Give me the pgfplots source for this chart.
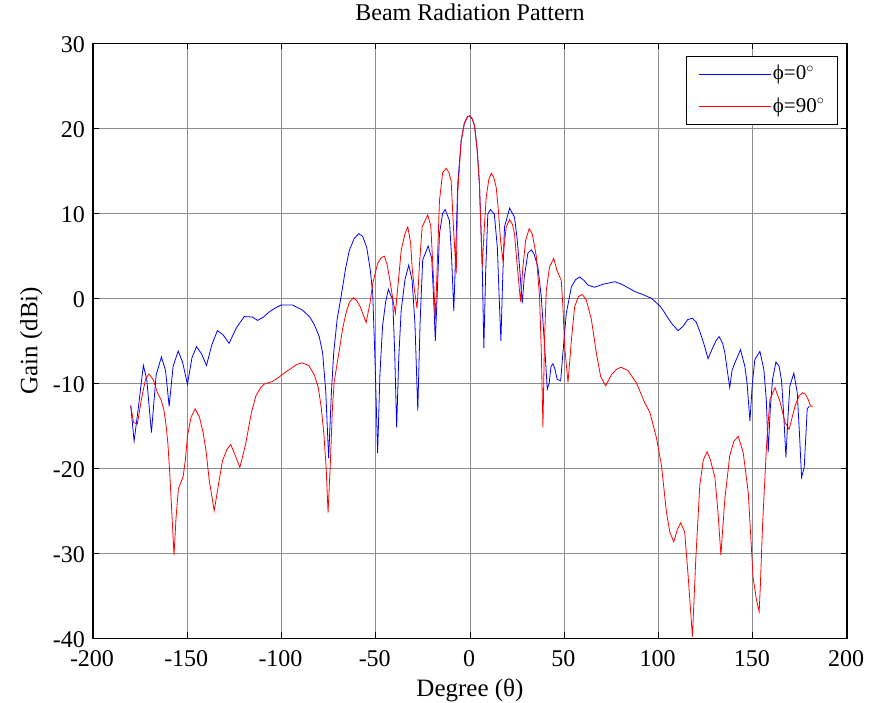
\documentclass[border=0pt]{standalone}
\usepackage{fontspec}
\setmainfont{Liberation Serif}
\usepackage{pgfplots}
\pgfplotsset{compat=1.18}
\begin{document}
\fontsize{24bp}{28bp}\selectfont
\begin{tikzpicture}
\useasboundingbox (-93bp,-64.7bp) rectangle (785bp,638.3bp);
\begin{axis}[
  at={(0,0)}, anchor=south west,
  width=754bp, height=595bp, scale only axis,
  xmin=-200, xmax=200, ymin=-40, ymax=30,
  xtick={-200,-150,...,200}, ytick={-40,-30,...,30},
  /pgf/number format/assume math mode=true,
  tick label style={font=\fontsize{24bp}{28bp}\selectfont, inner sep=0pt},
  xticklabel style={anchor=base, yshift=-28.4bp, xshift=-1bp},
  yticklabel style={anchor=base east, xshift=-8bp, yshift=-9bp},
  tick align=inside, major tick length=6bp,
  tick style={black, line width=0.9bp},
  axis line style={black, line width=1.4bp},
  grid=major,
  major grid style={black!45, line width=0.9bp},
  title={Beam Radiation Pattern},
  title style={at={(axis description cs:0.5,1)}, anchor=base, yshift=16.6bp, font=\fontsize{24bp}{28bp}\selectfont, inner sep=0pt},
  xlabel={Degree (θ)},
  xlabel style={at={(axis description cs:0.5,0)}, anchor=base, yshift=-57.7bp, font=\fontsize{25bp}{29bp}\selectfont, inner sep=0pt},
  ylabel={Gain (dBi)},
  ylabel style={at={(axis description cs:0,0.5)}, anchor=base, yshift=55.7bp, font=\fontsize{25bp}{29bp}\selectfont, inner sep=0pt},
  legend style={at={(rel axis cs:0.988,0.979)}, anchor=north east, draw=black, line width=1bp, fill=white,
    font=\fontsize{21bp}{25bp}\selectfont, inner xsep=12bp, inner ysep=8bp, row sep=12bp,
    nodes={inner sep=1bp}},
  legend cell align=left,
  legend image code/.code={\draw[#1, line width=0.9bp] (0bp,0bp) -- (72bp,0bp);},
]
\addplot[blue, line width=0.8bp] coordinates {
(-180,-12.6) (-178.2,-16.8) (-176,-13) (-173.3,-7.9) (-171.5,-9.5) (-169,-15.8) (-166.5,-9) (-163.7,-6.9)
(-161.5,-8.5) (-159.6,-12.7) (-157.5,-8) (-154.8,-6.2) (-152.5,-7.5) (-149.9,-10.1) (-147.5,-7) (-145.1,-5.7)
(-142.5,-6.5) (-139.8,-7.9) (-137,-5.5) (-134,-3.8) (-131,-4.3) (-127.8,-5.3) (-124,-3.5) (-119.8,-2.15)
(-115.5,-2.2) (-112.7,-2.6) (-109.5,-2.2) (-106.5,-1.6) (-103,-1.1) (-100.3,-0.8) (-94.1,-0.8) (-88.8,-1.4)
(-85,-2.2) (-82.6,-3.1) (-80,-4.5) (-78.2,-6.4) (-76.5,-11) (-75,-18.8) (-73.5,-11) (-72.3,-6.4)
(-70.5,-2.5) (-68.4,0.2) (-66,3.5) (-64,5.65) (-61.5,7.0) (-59.1,7.6) (-57,7.3) (-54.8,6)
(-53,3.5) (-51.6,0.6) (-50.3,-8) (-49,-18.2) (-47.8,-9) (-46.4,-3.3) (-44.8,-0.5) (-43.3,1.05)
(-41,-0.2) (-40,-6) (-38.9,-15.2) (-37.8,-7) (-36.5,-1.4) (-34.5,2.2) (-32.5,3.9) (-30.7,2.1)
(-29.2,-3) (-27.7,-13.2) (-26.5,-3) (-25.1,4.5) (-22.2,6.15) (-20.3,4.7) (-19.3,0) (-18.4,-5)
(-17.3,1) (-16.2,7.6) (-14.5,10) (-13.2,10.45) (-10.9,9.15) (-9.8,5) (-8.6,-1.5) (-7.5,6)
(-6.5,13.45) (-4.7,18.5) (-3,20.6) (-1.2,21.4) (0,21.45) (1.2,21.1) (2.4,20.3) (3.8,17.5)
(5,13.45) (6.5,3.7) (7.35,-5.85) (8.3,3) (9.45,9.9) (10.9,10.45) (12.9,9.9) (14.5,6)
(15.5,0) (16.4,-5) (17.3,2) (18.3,8.4) (21,10.6) (23.6,9.55) (25,7) (26.3,3.7)
(27.7,-0.6) (28.8,2.5) (30.7,5.3) (32.5,5.7) (34,5.2) (36,3.7) (37.8,0.2) (39.6,-5.65)
(41,-10.7) (42,-10) (43,-8) (44,-7.7) (45,-8.3) (46.3,-9.55) (48.1,-9.7) (49.3,-6.4)
(51.1,-1.75) (53.8,1.35) (56,2.2) (58.2,2.5) (60.5,2.1) (62.6,1.55) (66.1,1.3) (70.5,1.65)
(76.8,1.95) (80,1.7) (83,1.35) (87.4,0.8) (91,0.5) (96.3,0) (100.7,-0.9) (103,-1.6)
(105.1,-2.35) (107.5,-3.1) (110.4,-3.8) (113,-3.3) (115.5,-2.5) (118,-2.35) (120,-2.8) (121.9,-3.9)
(124,-5.3) (126.3,-7.1) (128.7,-5.85) (130.5,-5) (132.2,-4.5) (134,-5.3) (135.2,-6.4) (136.5,-8.5)
(137.8,-10.5) (139,-8.5) (140.5,-7.6) (143.5,-6.05) (145.8,-8) (147,-10) (148.5,-14.45) (149.8,-10)
(151.1,-7.2) (153.8,-6.25) (155.9,-8.4) (157.2,-12) (158.2,-18.1) (159.3,-13) (160.5,-9.55) (162.3,-7.5)
(164,-8) (165.3,-9.75) (166.5,-14) (167.6,-18.7) (168.8,-13.5) (169.7,-10.3) (171.8,-8.8) (173.6,-11.1)
(174.8,-16) (175.9,-21.05) (177.3,-19.9) (178.9,-13) (180,-12.7)
};
\addlegendentry{\char"03D5=0$^{\circ}$}
\addplot[red, line width=0.8bp] coordinates {
(-180,-12.6) (-178.5,-14.6) (-176.5,-14.8) (-174,-11.5) (-172,-9.4) (-170.3,-8.9) (-168,-9.6) (-165.8,-11.1)
(-164,-11.9) (-162.5,-13) (-161.4,-14.6) (-160.3,-17) (-159.3,-20.5) (-158,-26) (-157,-30.2) (-156,-26)
(-154.7,-22.4) (-152.2,-21) (-151,-19) (-149.9,-16.2) (-148,-14) (-145.8,-13) (-143.5,-14) (-141.6,-15.8)
(-140,-18) (-138.4,-21.3) (-135.7,-25) (-133.5,-22) (-131.3,-19.1) (-129,-17.8) (-126.9,-17.2) (-124.5,-18.5)
(-122.1,-19.9) (-120.5,-18.5) (-118.9,-17) (-116,-13.5) (-113.6,-11.5) (-111,-10.5) (-109.2,-10.1) (-105,-9.8)
(-102.1,-9.4) (-98,-8.7) (-95.9,-8.4) (-92,-7.8) (-89.1,-7.6) (-85.5,-7.9) (-82.6,-9.0) (-80.5,-10.5)
(-79,-12.7) (-77.5,-16) (-76.3,-20) (-75.3,-25.2) (-74.2,-20) (-73,-13) (-72,-9.75) (-69.3,-6.05)
(-67.5,-3.5) (-65.8,-1.75) (-64,-0.5) (-61.9,0.07) (-60,-0.3) (-58.2,-1.0) (-55.1,-2.85) (-53,-0.5)
(-51.6,1.75) (-49,4.1) (-47,4.8) (-45.4,4.95) (-44,4) (-42.8,2.5) (-41,0) (-39.6,-1.75)
(-38,2) (-36.5,5.65) (-34.5,7.6) (-33,8.4) (-31.5,6.5) (-30.7,3.6) (-29.5,1) (-28.1,-1.2)
(-26.8,4) (-25.4,8.4) (-22.4,9.8) (-20.8,8.5) (-19.5,3) (-18.4,-2.5) (-17.2,5) (-16.2,11.5)
(-14.5,14.8) (-12.6,15.3) (-11.2,14.8) (-10,13.8) (-8.6,7.6) (-7.3,2.9) (-6.5,12.5) (-4.7,18.5)
(-3,20.6) (-1.2,21.4) (0,21.45) (1.2,21.1) (2.4,20.3) (3.8,17.5) (5,13.45) (6.5,3.7)
(7.5,8) (8.6,11.9) (10,14) (11.3,14.7) (12.5,14.3) (13.9,13.05) (15,10.5) (16.2,6.8)
(17.4,4.55) (18.3,6.5) (19.2,8.4) (21,9.25) (22.5,8.7) (23.6,7.6) (25,4) (26.8,-0.4)
(28,3.5) (29.5,6.8) (31.4,8.2) (33,7.6) (34.3,6.05) (35.2,4.9) (36.9,0.2) (37.8,-6)
(38.7,-15.2) (39.5,-5) (40.5,1.0) (42.2,3.7) (44.4,4.7) (46.1,3.3) (48.4,2.1) (49.3,-1)
(50.2,-5.65) (52,-9.9) (53.8,-4.9) (55.5,-1.0) (57.5,0.2) (59.6,0.45) (61.7,-0.2) (64.4,-2.5)
(67,-6.4) (69.3,-9.2) (72,-10.3) (75,-9) (77.5,-8.4) (80,-8.1) (83.8,-8.5) (88.3,-9.95)
(92.7,-12.3) (95.4,-13.4) (98.9,-16.4) (101.6,-19.7) (104.2,-25.15) (106,-27.5) (108.1,-28.65) (110,-27.2)
(111.8,-26.4) (113.9,-27.5) (115.7,-32.6) (118,-39.8) (119.8,-30.6) (121.9,-22) (123.8,-19) (125.8,-18.05)
(127.5,-19) (129.9,-21.05) (131.5,-25) (133.1,-30.2) (135.2,-23.6) (137.8,-18.5) (140,-16.8) (142.3,-16.25)
(144.9,-18.1) (147.6,-22.8) (150.2,-32.9) (152,-35.5) (153.4,-36.85) (154,-34) (155.2,-26.7) (157.3,-17.35)
(159.1,-11.9) (161.8,-10.5) (163,-11.3) (164.4,-12.1) (167.1,-14.6) (169.3,-15.4) (172.4,-12.7) (174.5,-11.5)
(176.5,-11.1) (178,-11.3) (179.4,-11.9) (180.7,-12.7) (182,-12.7)
};
\addlegendentry{\char"03D5=90$^{\circ}$}
\end{axis}
\end{tikzpicture}
\end{document}
